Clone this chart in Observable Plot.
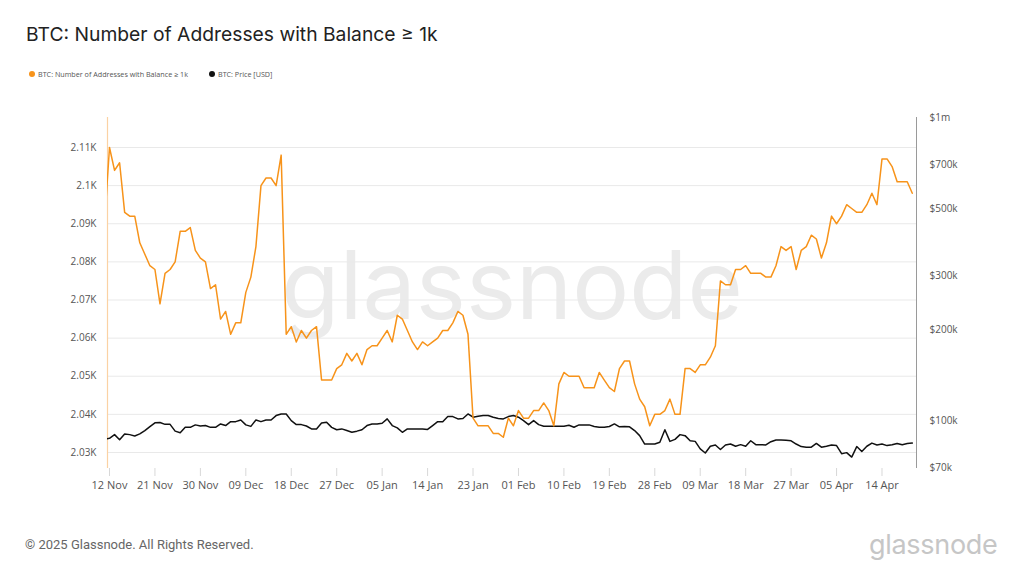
<!DOCTYPE html>
<html>
<head>
<meta charset="utf-8">
<script src="https://cdn.jsdelivr.net/npm/d3@7"></script>
<script src="https://cdn.jsdelivr.net/npm/@observablehq/plot@0.6"></script>
<style>
  html, body { margin: 0; padding: 0; background: #fff; }
  body { width: 1024px; height: 576px; overflow: hidden; position: relative; font-family: Inter, "Open Sans", sans-serif; }
  #title { position: absolute; left: 26px; top: 22px; font-size: 19.3px; color: #222; white-space: nowrap; }
  #legend { position: absolute; left: 29px; top: 69px; font-size: 7.2px; color: #555; display: flex; align-items: center; font-family: "Open Sans", sans-serif; white-space: nowrap; }
  #legend .item { display: flex; align-items: center; margin-right: 21px; }
  #legend .dot { width: 6px; height: 6px; border-radius: 50%; margin-right: 3px; }
  #chart { position: absolute; left: 0; top: 96px; }
  #footer { position: absolute; left: 25px; top: 537px; font-size: 13px; color: #666; font-family: Roboto, sans-serif; white-space: nowrap; }
  #logo { position: absolute; left: 869px; top: 528px; font-size: 27px; color: #c6c6c6; font-family: Inter, sans-serif; letter-spacing: -0.3px; }
</style>
</head>
<body>
<div id="title">BTC: Number of Addresses with Balance ≥ 1k</div>
<div id="legend"></div>
<div id="chart"></div>
<div id="footer">© 2025 Glassnode. All Rights Reserved.</div>
<div id="logo">glassnode</div>
<script>
// ---- data ----
const seriesNames = ["BTC: Number of Addresses with Balance ≥ 1k", "BTC: Price [USD]"];
const seriesColors = ["#f7931a", "#111111"];
const firstDate = "2024-11-11"; // daily values from this date
const addresses = [
  2090, 2110, 2104, 2106, 2093, 2092, 2092, 2085, 2082, 2079, 2078, 2069, 2077, 2078, 2080, 2088,
  2088, 2089, 2083, 2081, 2080, 2073, 2074, 2065, 2067, 2061, 2064, 2064, 2072, 2076, 2084, 2100,
  2102, 2102, 2100, 2108, 2061, 2063, 2059, 2062, 2060, 2062, 2063, 2049, 2049, 2049, 2052, 2053,
  2056, 2054, 2056, 2053, 2057, 2058, 2058, 2060, 2062, 2059, 2066, 2065, 2062, 2059, 2057, 2059,
  2058, 2059, 2060, 2062, 2062, 2064, 2067, 2066, 2061, 2039, 2037, 2037, 2037, 2035, 2035, 2034,
  2039, 2037, 2041, 2039, 2039, 2041, 2041, 2043, 2041, 2037, 2048, 2051, 2050, 2050, 2050, 2047,
  2047, 2047, 2051, 2049, 2047, 2046, 2052, 2054, 2054, 2048, 2044, 2042, 2037, 2040, 2040, 2041,
  2044, 2040, 2040, 2052, 2052, 2051, 2053, 2053, 2055, 2058, 2075, 2074, 2074, 2078, 2078, 2079,
  2077, 2077, 2077, 2076, 2076, 2079, 2084, 2083, 2084, 2078, 2083, 2084, 2087, 2086, 2081, 2085,
  2092, 2090, 2092, 2095, 2094, 2093, 2093, 2095, 2098, 2095, 2107, 2107, 2105, 2101, 2101, 2101,
  2098
];
const priceK = [
  87.0, 87.4, 89.9, 86.5, 90.4, 89.9, 89.0, 90.4, 92.7, 95.5, 98.3, 98.6, 97.2, 97.2, 92.3, 91.2,
  95.0, 95.0, 96.8, 96.0, 96.3, 95.0, 95.0, 97.5, 96.3, 99.2, 99.2, 100.5, 96.8, 95.7, 100.5, 99.2,
  100.5, 100.5, 103.9, 105.2, 105.2, 100.0, 97.0, 97.0, 96.0, 93.9, 93.9, 98.2, 98.8, 95.0, 93.3, 93.9,
  92.7, 91.5, 92.3, 93.3, 96.3, 97.5, 97.5, 98.0, 101.3, 96.3, 94.6, 91.5, 93.9, 93.9, 93.9, 93.9,
  93.5, 96.3, 99.2, 99.2, 103.1, 103.1, 101.3, 101.6, 105.2, 102.6, 103.3, 103.9, 103.9, 102.6, 101.6, 101.3,
  103.1, 103.9, 102.6, 100.0, 97.0, 100.0, 97.0, 95.8, 95.8, 95.8, 95.8, 95.8, 96.5, 95.1, 96.8, 96.8,
  96.8, 95.6, 95.0, 95.0, 95.6, 97.5, 95.4, 95.6, 95.4, 92.7, 89.2, 83.7, 83.7, 83.7, 84.8, 93.3,
  85.4, 86.7, 89.9, 89.2, 85.8, 85.4, 80.7, 78.2, 82.3, 83.1, 80.3, 83.1, 83.7, 82.3, 83.3, 82.3,
  85.8, 83.3, 83.3, 83.1, 85.2, 86.3, 86.3, 86.1, 85.8, 83.7, 82.1, 81.7, 81.7, 84.1, 81.7, 82.3,
  83.1, 82.7, 77.8, 78.4, 75.8, 82.1, 79.1, 82.3, 84.3, 83.1, 83.7, 82.7, 83.3, 84.1, 83.3, 84.1,
  84.3
];
const xTickDates = ["2024-11-12","2024-11-21","2024-11-30","2024-12-09","2024-12-18","2024-12-27",
  "2025-01-05","2025-01-14","2025-01-23","2025-02-01","2025-02-10","2025-02-19","2025-02-28",
  "2025-03-09","2025-03-18","2025-03-27","2025-04-05","2025-04-14"];
const leftTicks = [2030, 2040, 2050, 2060, 2070, 2080, 2090, 2100, 2110];
const priceTicks = [70000, 100000, 200000, 300000, 500000, 700000, 1000000];
const priceTickLabels = ["$70k", "$100k", "$200k", "$300k", "$500k", "$700k", "$1m"];
const xDomainDates = ["2024-11-11T14:30", "2025-04-20T20:00"];
const yDomain = [2025.8, 2117.87];
const priceDomain = [69500, 1000000];

// ---- build ----
const start = new Date(firstDate + "T00:00Z");
const rows = addresses.map((v, i) => ({
  date: d3.utcDay.offset(start, i),
  addr: v,
  price: priceK[i] * 1000
}));
const priceToY = d3.scaleLog().domain(priceDomain).range(yDomain);
const priceTickMap = new Map(priceTicks.map((p, i) => [priceToY(p), priceTickLabels[i]]));
const xDomain = xDomainDates.map(s => new Date(s + "Z"));
const xTicks = xTickDates.map(s => new Date(s + "T00:00Z"));

const legend = document.getElementById("legend");
seriesNames.forEach((n, i) => {
  const it = document.createElement("div");
  it.className = "item";
  it.innerHTML = `<span class="dot" style="background:${seriesColors[i]}"></span><span>${n}</span>`;
  legend.appendChild(it);
});

const chart = Plot.plot({
  width: 1024,
  height: 420,
  marginTop: 21,
  marginBottom: 48,
  marginLeft: 107,
  marginRight: 108,
  x: { type: "utc", domain: xDomain, label: null },
  y: { domain: yDomain, label: null },
  style: { fontFamily: "'Open Sans', sans-serif", fontSize: "10px", color: "#555", background: "transparent" },
  marks: [
    Plot.text(["glassnode"], { frameAnchor: "middle", dy: -4, fontSize: 95, fill: "#ebebeb", fontFamily: "Inter, sans-serif", fontWeight: 400 }),
    Plot.gridY(leftTicks, { stroke: "#e9e9e9", strokeOpacity: 1 }),
    Plot.axisY(leftTicks, { anchor: "left", label: null, tickSize: 0, tickPadding: 11, fontSize: 10, fill: "#555",
      tickFormat: d => `${+(d / 1000).toFixed(2)}K` }),
    Plot.axisY(priceTicks.map(priceToY), { anchor: "right", label: null, tickSize: 0, tickPadding: 13, fontSize: 10, fill: "#555",
      tickFormat: d => priceTickMap.get(d) }),
    Plot.axisX(xTicks, { anchor: "bottom", label: null, tickSize: 8, tickPadding: 5, stroke: "#d8d8d8", fill: "#555", fontSize: 11,
      tickFormat: d3.utcFormat("%d %b") }),
    Plot.ruleX([xDomain[0]], { stroke: "#fbd2a4", strokeWidth: 1.2 }),
    Plot.ruleX([xDomain[1]], { stroke: "#9a9a9a", strokeWidth: 1 }),
    Plot.lineY(rows, { x: "date", y: d => priceToY(d.price), stroke: seriesColors[1], strokeWidth: 1.5, clip: true }),
    Plot.lineY(rows, { x: "date", y: "addr", stroke: seriesColors[0], strokeWidth: 1.5, clip: true })
  ]
});
document.getElementById("chart").appendChild(chart);
</script>
</body>
</html>
